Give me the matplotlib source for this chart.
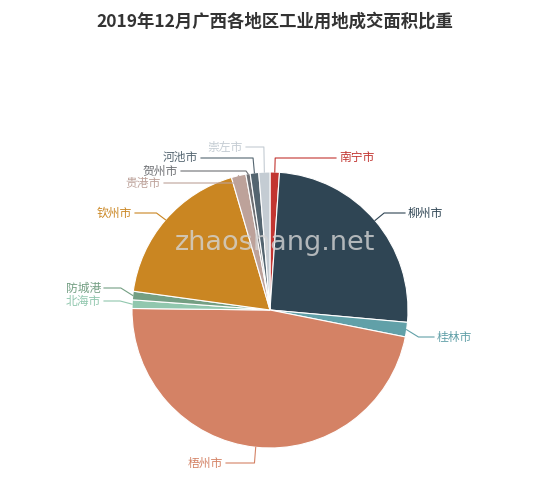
import numpy as np
import matplotlib
matplotlib.use('Agg')
import matplotlib.pyplot as plt

plt.rcParams['font.family'] = ['Noto Sans CJK SC', 'DejaVu Sans']

names  = ['南宁市', '柳州市', '桂林市', '梧州市', '北海市', '防城港', '钦州市', '贵港市', '贺州市', '河池市', '崇左市']
values = [1.1, 25.3, 1.7, 47.0, 1.0, 1.0, 18.3, 1.7, 0.5, 1.0, 1.3]
colors = ['#c23531', '#2f4554', '#61a0a8', '#d48265', '#91c7ae', '#749f83',
          '#ca8622', '#bda29a', '#6e7074', '#546570', '#c4ccd3']
# label anchor positions (pixels, y from top) and side
label_pos = [(336, 158, 'l'), (405, 213, 'l'), (434, 337, 'l'), (226, 463, 'r'),
             (104, 301, 'r'), (104, 288, 'r'), (135, 213, 'r'), (164, 183, 'r'),
             (181, 171, 'r'), (201, 158, 'r'), (246, 147, 'r')]

H = 490
cx, cy, R = 270, H - 310, 138

fig = plt.figure(figsize=(5.5, 4.9), dpi=100)
ax = fig.add_axes([0, 0, 1, 1])

wedges, _ = ax.pie(values, colors=colors, startangle=90, counterclock=False,
                   center=(cx, cy), radius=R, wedgeprops=dict(linewidth=0.8, edgecolor='white'))
ax.set_xlim(0, 550); ax.set_ylim(0, H); ax.set_aspect('equal'); ax.axis('off')

for w, name, c, (tx, ty, side) in zip(wedges, names, colors, label_pos):
    a = np.deg2rad((w.theta1 + w.theta2) / 2)
    x0, y0 = cx + R * np.cos(a), cy + R * np.sin(a)
    ty = H - ty
    x1, y1 = cx + (R + 12) * np.cos(a), ty
    ax.plot([x0, x1, tx], [y0, y1, ty], color=c, lw=0.8)
    ax.text(tx + (3 if side == 'l' else -3), ty, name, color=c, fontsize=8.5,
            ha='left' if side == 'l' else 'right', va='center')

ax.text(275, H - 243, 'zhaoshang.net', fontsize=19.5, color='#d4d4d4', alpha=0.8,
        ha='center', va='center', family='DejaVu Sans')
fig.text(0.5, 1 - 22 / H, '2019年12月广西各地区工业用地成交面积比重', ha='center', va='center',
         fontsize=12.5, fontweight='bold', color='#333333')
fig.savefig('out.png', dpi=100)
